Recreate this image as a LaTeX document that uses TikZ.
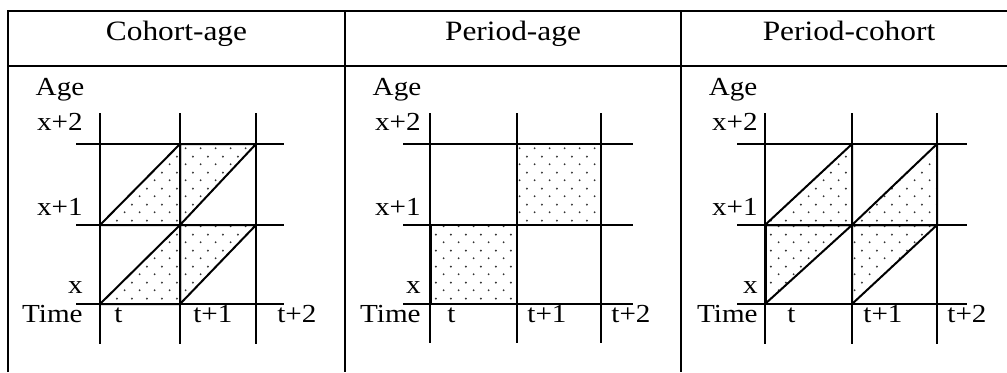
\documentclass[tikz,border=0pt]{standalone}
\usepackage{fontspec}
\setmainfont{Liberation Serif}[FakeStretch=1.12]
\usepackage{tikz}
\usetikzlibrary{patterns}

% staggered sparse dots, as in the shaded cells
\pgfdeclarepatternformonly{sparse dots}{\pgfpointorigin}{\pgfqpoint{7.6pt}{7.8pt}}{\pgfqpoint{7.6pt}{7.8pt}}{
  \pgfpathcircle{\pgfqpoint{1.9pt}{1.9pt}}{0.55pt}
  \pgfpathcircle{\pgfqpoint{5.7pt}{5.8pt}}{0.55pt}
  \pgfusepath{fill}
}

\begin{document}
\begin{tikzpicture}[
      x=0.5pt, y=-0.5pt,
      tbl/.style   = {line width=1.1pt},
      gridln/.style = {line width=0.75pt},
      shd/.style   = {draw, line width=1pt, line join=round,
                      pattern=sparse dots, pattern color=black!80},
      edge/.style  = {line width=1.5pt},
      lbl/.style   = {inner sep=0pt, font=\fontsize{13}{15}\selectfont},
      hdr/.style   = {inner sep=0pt, font=\fontsize{14}{16}\selectfont},
    ]
    \useasboundingbox (0,0) rectangle (1007,372);
    % table
    \draw[tbl] (8,372) -- (8,11) -- (1007,11);
    \draw[tbl] (8,66) -- (1007,66);
    \draw[tbl] (345,11) -- (345,372);
    \draw[tbl] (681,11) -- (681,372);
    \node[hdr, anchor=base] (hdrCA) at (176.5,40) {Cohort-age};
    \node[hdr, anchor=base] (hdrPA) at (513,40) {Period-age};
    \node[hdr, anchor=base] (hdrPC) at (849,40) {Period-cohort};

    % --- cohort-age ---
    \foreach \gx in {100,180,256} \draw[gridln] (\gx,113) -- (\gx,344);
    \foreach \gy in {144,225,304} \draw[gridln] (76,\gy) -- (284,\gy);
    \draw[shd] (100,225) -- (180,144) -- (180,225) -- cycle;
    \draw[shd] (180,144) -- (256,144) -- (180,225) -- cycle;
    \draw[shd] (100,304) -- (180,225) -- (180,304) -- cycle;
    \draw[shd] (180,225) -- (256,225) -- (180,304) -- cycle;
    \node[lbl, anchor=base]      (ageCA)  at (60,95)  {Age};
    \node[lbl, anchor=base east] (x2CA)   at (83,130) {x+2};
    \node[lbl, anchor=base east] (x1CA)   at (83,215) {x+1};
    \node[lbl, anchor=base east] (x0CA)   at (83,293) {x};
    \node[lbl, anchor=base east] (timeCA) at (83,322) {Time};
    \node[lbl, anchor=base west] (t0CA)   at (114,322) {t};
    \node[lbl, anchor=base west] (t1CA)   at (193,322) {t+1};
    \node[lbl, anchor=base west] (t2CA)   at (277,322) {t+2};

    % --- period-age ---
    \foreach \gx in {430,517,601} \draw[gridln] (\gx,113) -- (\gx,343);
    \foreach \gy in {144,225,304} \draw[gridln] (403,\gy) -- (633,\gy);
    \draw[shd] (430,225) rectangle (517,304);
    \draw[shd] (517,144) rectangle (601,225);
    \draw[edge] (430,225) -- (430,304);
    \node[lbl, anchor=base]      (agePA)  at (397,95)  {Age};
    \node[lbl, anchor=base east] (x2PA)   at (421,130) {x+2};
    \node[lbl, anchor=base east] (x1PA)   at (421,215) {x+1};
    \node[lbl, anchor=base east] (x0PA)   at (421,293) {x};
    \node[lbl, anchor=base east] (timePA) at (421,322) {Time};
    \node[lbl, anchor=base west] (t0PA)   at (447,322) {t};
    \node[lbl, anchor=base west] (t1PA)   at (527,322) {t+1};
    \node[lbl, anchor=base west] (t2PA)   at (611,322) {t+2};

    % --- period-cohort ---
    \foreach \gx in {765,852,937} \draw[gridln] (\gx,113) -- (\gx,344);
    \foreach \gy in {144,225,304} \draw[gridln] (737,\gy) -- (967,\gy);
    \draw[shd] (765,225) -- (852,144) -- (852,225) -- cycle;
    \draw[shd] (765,225) -- (852,225) -- (765,304) -- cycle;
    \draw[shd] (852,225) -- (937,144) -- (937,225) -- cycle;
    \draw[shd] (852,225) -- (937,225) -- (852,304) -- cycle;
    \draw[edge] (765,225) -- (765,304);
    \node[lbl, anchor=base]      (agePC)  at (733,95)  {Age};
    \node[lbl, anchor=base east] (x2PC)   at (758,130) {x+2};
    \node[lbl, anchor=base east] (x1PC)   at (758,215) {x+1};
    \node[lbl, anchor=base east] (x0PC)   at (758,293) {x};
    \node[lbl, anchor=base east] (timePC) at (758,322) {Time};
    \node[lbl, anchor=base west] (t0PC)   at (787,322) {t};
    \node[lbl, anchor=base west] (t1PC)   at (863,322) {t+1};
    \node[lbl, anchor=base west] (t2PC)   at (947,322) {t+2};
\end{tikzpicture}
\end{document}
